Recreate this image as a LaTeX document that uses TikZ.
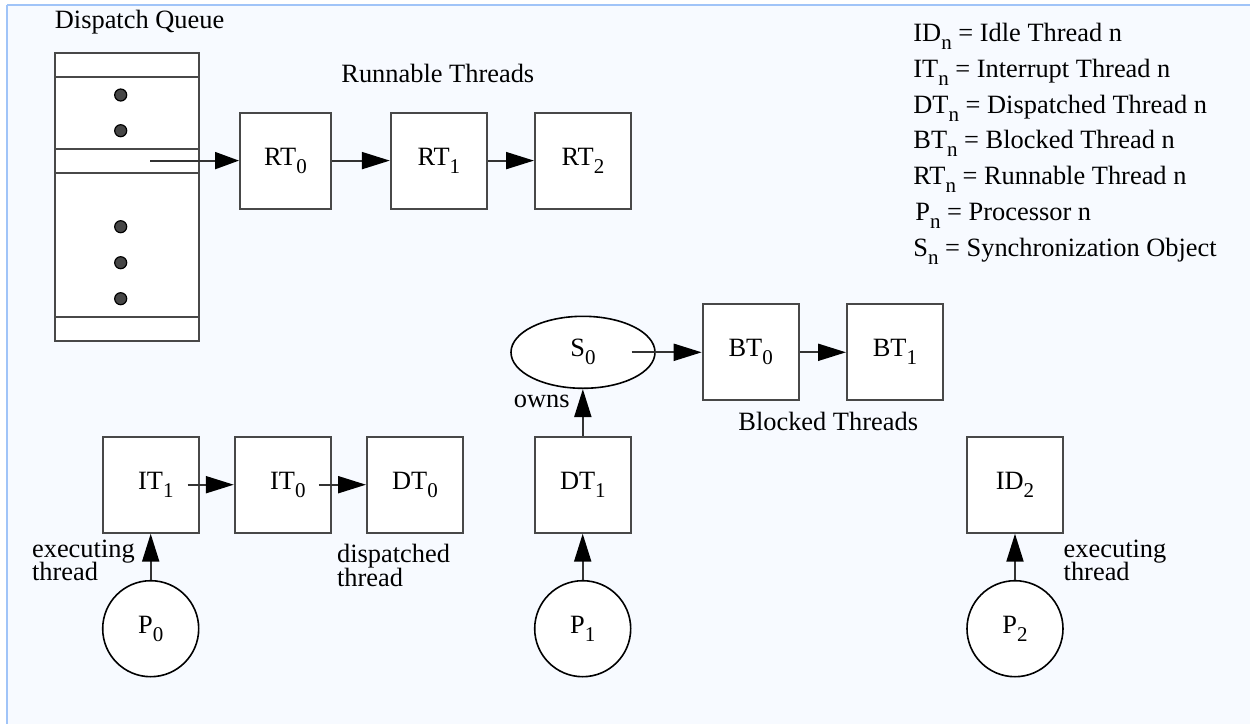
\documentclass[tikz,border=0pt]{standalone}
\usepackage{fontspec}
\setmainfont{Liberation Serif}
\usetikzlibrary{arrows.meta,shapes.geometric,calc}

\definecolor{pagebg}{RGB}{247,250,255}
\definecolor{frameblue}{RGB}{160,196,248}
\definecolor{boxgray}{RGB}{72,72,72}
\definecolor{linegray}{RGB}{51,51,51}
\definecolor{dotgray}{RGB}{70,70,70}

% lowered, slightly smaller index (RT_0, P_n, ...)
\newcommand{\lowsub}[1]{\raisebox{-0.3em}{\fontsize{10.5}{12}\selectfont #1}}

\tikzset{
  thr/.style={draw=boxgray, line width=1pt, fill=white, minimum width=48pt,
    minimum height=48pt, inner sep=0pt},
  proc/.style={circle, draw=black, line width=0.8pt, fill=white,
    minimum size=48pt, inner sep=0pt},
  sync/.style={ellipse, draw=black, line width=0.8pt, fill=white,
    minimum width=72pt, minimum height=36pt, inner sep=0pt},
  link/.style={draw=linegray, line width=1pt,
    -{Triangle[length=14pt,width=8.5pt,black]}},
  txt/.style={anchor=base west, inner sep=0pt},
  txtr/.style={anchor=base east, inner sep=0pt},
  rule/.style={draw=boxgray, line width=1pt},
  qdot/.style={fill=dotgray, draw=black, line width=0.6pt},
}

\begin{document}
\begin{tikzpicture}[x=0.5pt, y=-0.5pt, font=\fontsize{13.2}{15}\selectfont]
\useasboundingbox (0,0) rectangle (1250,724);

% page background and frame
\fill[white] (0,0) rectangle (1250,724);
\fill[pagebg] (7,5) rectangle (1250,724);
\draw[frameblue, line width=1pt] (7,5) -- (1250,5);
\draw[frameblue, line width=0.6pt] (7,5) -- (7,724);

% dispatch queue
\node[txt] (dqlabel) at (54.5,28) {Dispatch Queue};
\node[draw=boxgray, line width=1pt, fill=white, minimum width=72.15pt,
  minimum height=144pt, inner sep=0pt] (queue) at (126.85,196.7) {};
\draw[rule] (54.7,76.7) -- (199,76.7);
\draw[rule] (54.7,148.7) -- (199,148.7);
\draw[rule] (54.7,172.7) -- (199,172.7);
\draw[rule] (54.7,316.7) -- (199,316.7);
\foreach \yy in {95,130.7,226.7,262.7,298.7}
  \filldraw[qdot] (120.7,\yy) circle[radius=3pt];
\coordinate (qslot) at (150,160.6);

% runnable threads
\node[txt] (rtlabel) at (341,82) {Runnable Threads};
\node[thr, minimum width=45.5pt] (RT0) at (285.5,160.6) {RT\lowsub{0}};
\node[thr] (RT1) at (438.85,160.6) {RT\lowsub{1}};
\node[thr] (RT2) at (583,160.6) {RT\lowsub{2}};
\draw[link, -{Triangle[length=12pt,width=8.5pt,black]}] (qslot) -- (RT0.west);
\draw[link] (RT0.east) -- (RT1.west);
\draw[link] (RT1.east) -- (RT2.west);

% legend
\node[txt] (lg1) at (913,41.5)  {ID\lowsub{n} = Idle Thread n};
\node[txt] (lg2) at (913,77.3)  {IT\lowsub{n} = Interrupt Thread n};
\node[txt] (lg3) at (913,113.1) {DT\lowsub{n} = Dispatched Thread n};
\node[txt] (lg4) at (913,148.9) {BT\lowsub{n} = Blocked Thread n};
\node[txt] (lg5) at (913,184.7) {RT\lowsub{n} = Runnable Thread n};
\node[txt] (lg6) at (915,220.5) {P\lowsub{n} = Processor n};
\node[txt] (lg7) at (913,256.3) {S\lowsub{n} = Synchronization Object};

% synchronization object and blocked threads
\node[sync] (S0) at (583,352.3) {S\lowsub{0}};
\node[thr] (BT0) at (750.7,352.3) {BT\lowsub{0}};
\node[thr] (BT1) at (895,352.3) {BT\lowsub{1}};
\draw[link] ([xshift=-12.15pt]S0.east) -- (BT0.west);
\draw[link] (BT0.east) -- (BT1.west);
\node[txt] (btlabel) at (738,430) {Blocked Threads};

% threads bound to processors
\node[thr] (IT1) at (150.85,484.7) {\hspace{5pt}IT\lowsub{1}};
\node[thr] (IT0) at (282.8,484.7) {\hspace{5pt}IT\lowsub{0}};
\node[thr] (DT0) at (415,484.7) {DT\lowsub{0}};
\node[thr] (DT1) at (582.85,484.7) {DT\lowsub{1}};
\node[thr] (ID2) at (1015,484.7) {ID\lowsub{2}};
\draw[link] ([xshift=-6.15pt]IT1.east) -- (IT0.west);
\draw[link] ([xshift=-6.5pt]IT0.east) -- (DT0.west);

% processors
\node[proc] (P0) at (150.7,628.7) {P\lowsub{0}};
\node[proc] (P1) at (582.7,628.7) {P\lowsub{1}};
\node[proc] (P2) at (1015,628.7) {P\lowsub{2}};
\draw[link] (P0.north) -- (P0.north |- IT1.south);
\draw[link] (P1.north) -- (P1.north |- DT1.south);
\draw[link] (P2.north) -- (P2.north |- ID2.south);
\draw[link] (DT1.north) -- (DT1.north |- S0.south);

% annotations
\node[txtr] (owns) at (570,407) {owns};
\node[txt] (ex0a) at (31.7,557) {executing};
\node[txt] (ex0b) at (31.7,580) {thread};
\node[txt] (dsa) at (336.7,562.5) {dispatched};
\node[txt] (dsb) at (336.7,586.5) {thread};
\node[txt] (ex2a) at (1063.3,557) {executing};
\node[txt] (ex2b) at (1063.3,580) {thread};
\end{tikzpicture}
\end{document}
